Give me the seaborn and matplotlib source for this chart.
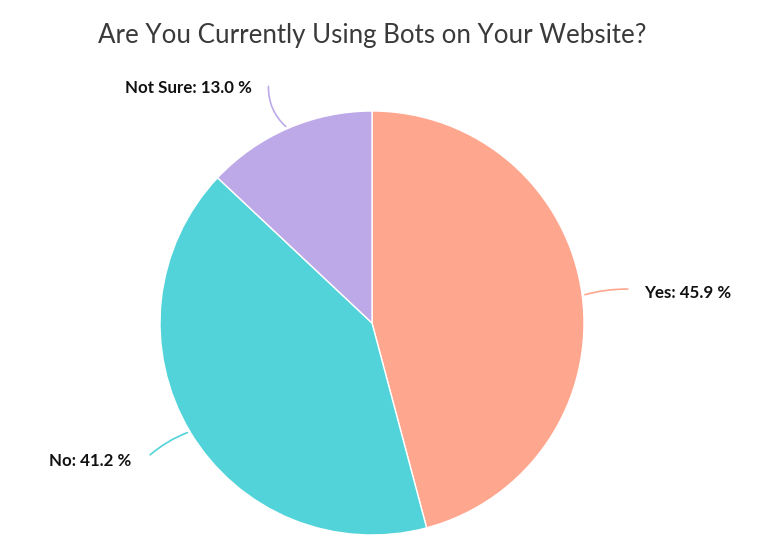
import numpy as np
import seaborn as sns
import matplotlib.pyplot as plt

labels = ['Yes', 'No', 'Not Sure']
shares = [45.9, 41.2, 13.0]
colors = ['#FFA78E', '#52D3D9', '#BDA9E8']

sns.set_theme(style='white')
plt.rcParams['font.family'] = ['Lato', 'DejaVu Sans']

fig = plt.figure(figsize=(7.68, 5.47), dpi=100)
# pie centre ~(372, 323) px, radius ~212 px
ax = fig.add_axes([160 / 768, 12 / 547, 424 / 768, 424 / 547])

wedges, _ = ax.pie(shares, colors=colors, startangle=90, counterclock=False,
                   radius=1, wedgeprops=dict(edgecolor='white', linewidth=1))
ax.set_xlim(-1, 1)
ax.set_ylim(-1, 1)
ax.set_aspect('equal')
ax.axis('off')

rads = [0.08, -0.1, 0.25]
for w, lab, val, col, rad in zip(wedges, labels, shares, colors, rads):
    ang = np.deg2rad((w.theta1 + w.theta2) / 2)
    x, y = np.cos(ang), np.sin(ang)
    ex, ey = 1.23 * x, 1.23 * y
    ax.annotate('', xy=(x, y), xytext=(ex, ey), annotation_clip=False,
                arrowprops=dict(arrowstyle='-', color=col, lw=1.2,
                                connectionstyle=f'arc3,rad={rad}'))
    if x >= 0:
        tx, ha = ex + 0.066, 'left'
    else:
        tx, ha = ex - 0.08, 'right'
    ax.text(tx, ey - 0.02, f'{lab}: {val:.1f} %', ha=ha, va='center',
            fontsize=12.2, fontweight='bold', color='#111111')

fig.text(372 / 768, 1 - 35 / 547, 'Are You Currently Using Bots on Your Website?',
         ha='center', va='center', fontsize=18.6, color='#3a3a3a')

fig.savefig('out.png', dpi=100)
